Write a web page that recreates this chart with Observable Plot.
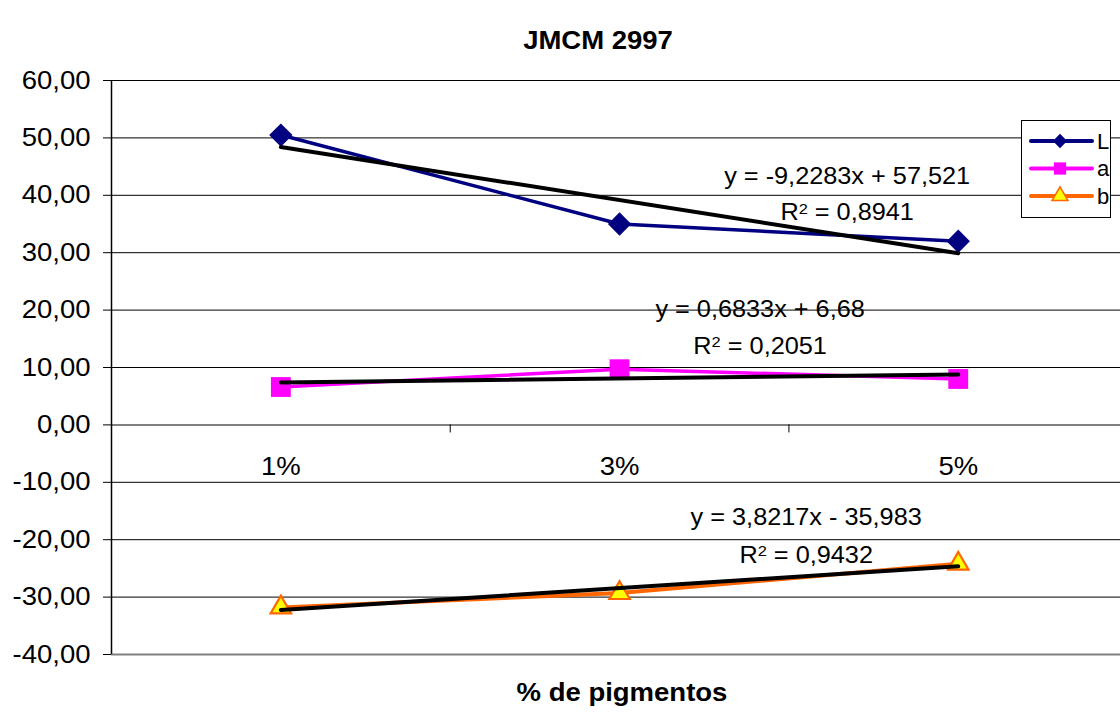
<!DOCTYPE html>
<html><head><meta charset="utf-8">
<script src="https://cdn.jsdelivr.net/npm/d3@7"></script>
<script src="https://cdn.jsdelivr.net/npm/@observablehq/plot@0.6"></script>
<style>
html,body{margin:0;padding:0;background:#fff;font-family:"Liberation Sans",Arial,sans-serif;overflow:hidden;}
#wrap{position:relative;width:1120px;height:717px;overflow:hidden;background:#fff;}
#wrap > svg.chart{display:block;}
#legend{position:absolute;left:1021px;top:120px;width:88px;height:96px;border:1px solid #000;background:#fff;}
#legend svg{display:block;}
</style></head><body><div id="wrap"></div>
<script>
// ---- data ----
const categories = ["1%", "3%", "5%"];
const seriesNames = ["L", "a", "b"];
const valuesL = [50.5, 35.0, 32.0];
const valuesA = [6.6, 9.7, 8.0];
const valuesB = [-31.8, -29.3, -24.2];
const yTicks = [-40, -30, -20, -10, 0, 10, 20, 30, 40, 50, 60];
const equationTexts = ["y = -9,2283x + 57,521", "y = 0,6833x + 6,68", "y = 3,8217x - 35,983"];
const r2Texts = ["R² = 0,8941", "R² = 0,2051", "R² = 0,9432"];
const titleText = "JMCM 2997";
const xTitleText = "% de pigmentos";

// ---- layout / style (not data) ----
const colors = {L: "#000080", a: "#FF00FF", b: "#FF6600"};
const eqPos = [{x: 2.672, y: 43.3}, {x: 2.415, y: 20.0}, {x: 2.551, y: -16.2}];
const r2Pos = [{x: 2.672, y: 36.9}, {x: 2.415, y: 13.7}, {x: 2.551, y: -22.8}];

const seriesValues = {L: valuesL, a: valuesA, b: valuesB};
const rows = seriesNames.flatMap(s => seriesValues[s].map((v, i) => ({s, x: i + 1, v})));
const rowsOf = s => rows.filter(d => d.s === s);
const fmt = d => d.toFixed(2).replace(".", ",");
const grid = yTicks.filter(t => t !== 0 && t !== -40);
const font = "Liberation Sans, Arial, sans-serif";

const eqRows = equationTexts.map((t, i) => ({t, ...eqPos[i]}));
const r2Rows = r2Texts.map((t, i) => ({t, ...r2Pos[i]}));

const chart = Plot.plot({
  width: 1120,
  height: 717,
  marginLeft: 111,
  marginRight: 0,
  marginTop: 80,
  marginBottom: 63,
  style: {fontFamily: font, background: "#fff", color: "#000"},
  x: {domain: [0.5, 3.479], axis: null},
  y: {domain: [-40, 60], axis: null},
  marks: [
    Plot.ruleY(grid, {stroke: "#000", strokeWidth: 1}),
    Plot.ruleY([-40, 0], {stroke: "#808080", strokeWidth: 2}),
    Plot.ruleX([0.5], {y1: -40, y2: 60, stroke: "#000", strokeWidth: 1.5}),
    Plot.ruleX([1.5, 2.5], {y1: 0, y2: -1.4, stroke: "#000", strokeWidth: 1}),
    Plot.axisY({ticks: yTicks, tickSize: 8, tickPadding: 13, fontSize: 25, tickFormat: fmt, stroke: "#000"}),
    Plot.text(categories, {x: (d, i) => i + 1, y: () => 0, dy: 42, fontSize: 25, fill: "#000"}),
    // series lines
    Plot.line(rowsOf("L"), {x: "x", y: "v", stroke: colors.L, strokeWidth: 3.5}),
    Plot.line(rowsOf("a"), {x: "x", y: "v", stroke: colors.a, strokeWidth: 3.5}),
    Plot.line(rowsOf("b"), {x: "x", y: "v", stroke: colors.b, strokeWidth: 4}),
    // markers
    Plot.dot(rowsOf("L"), {x: "x", y: "v", symbol: "diamond2", r: 10.5, fill: colors.L, stroke: "none"}),
    Plot.dot(rowsOf("a"), {x: "x", y: "v", symbol: "square", r: 11.2, fill: colors.a, stroke: "none"}),
    Plot.dot(rowsOf("b"), {x: "x", y: "v", symbol: "triangle", r: 7.6, fill: "#FFFF00", stroke: colors.b, strokeWidth: 2.2}),
    // trend lines
    Plot.linearRegressionY(rows, {x: "x", y: "v", z: "s", stroke: "#000", strokeWidth: 4, ci: 0}),
    // equations
    Plot.text(eqRows, {x: "x", y: "y", text: "t", fontSize: 23, fill: "#000"}),
    Plot.text(r2Rows, {x: "x", y: "y", text: "t", fontSize: 23, fill: "#000"}),
    // titles
    Plot.text([titleText], {frameAnchor: "top", dx: -18, dy: -49, fontSize: 25, fontWeight: "bold", fill: "#000"}),
    Plot.text([xTitleText], {frameAnchor: "bottom", dx: 6, dy: 46, fontSize: 25, fontWeight: "bold", fill: "#000"})
  ]
});
chart.classList.add("chart");

// slight horizontal stretch of texts, like the reference; raised superscript for R²
const ns = "http://www.w3.org/2000/svg";
chart.querySelectorAll("text").forEach(t => {
  const tr = t.getAttribute("transform");
  if (tr && tr.startsWith("translate") && !t.getAttribute("x")) t.setAttribute("transform", tr + " scale(1.1,1)");
  const s = t.textContent;
  if (s.startsWith("R²")) {
    const rest = s.slice(2);
    t.textContent = "";
    const a = document.createElementNS(ns, "tspan"); a.textContent = "R";
    const b = document.createElementNS(ns, "tspan"); b.textContent = "2";
    b.setAttribute("dy", "-0.45em"); b.setAttribute("font-size", "0.65em");
    const c = document.createElementNS(ns, "tspan"); c.textContent = rest;
    c.setAttribute("dy", "0.29em");
    t.append(a, b, c);
  }
});

const wrap = document.getElementById("wrap");
wrap.appendChild(chart);

// legend
const box = d3.select(wrap).append("div").attr("id", "legend");
const lg = box.append("svg").attr("width", 88).attr("height", 96);
seriesNames.forEach((s, i) => {
  const cy = 20 + i * 27.5;
  lg.append("line").attr("x1", 9).attr("x2", 70).attr("y1", cy).attr("y2", cy).attr("stroke", colors[s]).attr("stroke-width", 4).attr("stroke-linecap", "round");
  const d = s === "L" ? d3.symbol(d3.symbolDiamond2, 130)() : s === "a" ? d3.symbol(d3.symbolSquare, 150)() : d3.symbol(d3.symbolTriangle, 110)();
  const p = lg.append("path").attr("d", d).attr("transform", `translate(38,${cy})`);
  if (s === "b") p.attr("fill", "#FFFF00").attr("stroke", colors.b).attr("stroke-width", 1.5);
  else p.attr("fill", colors[s]);
  lg.append("text").attr("x", 75).attr("y", cy).attr("dy", "0.36em").attr("font-size", 22).attr("font-family", font).text(s);
});
</script></body></html>
